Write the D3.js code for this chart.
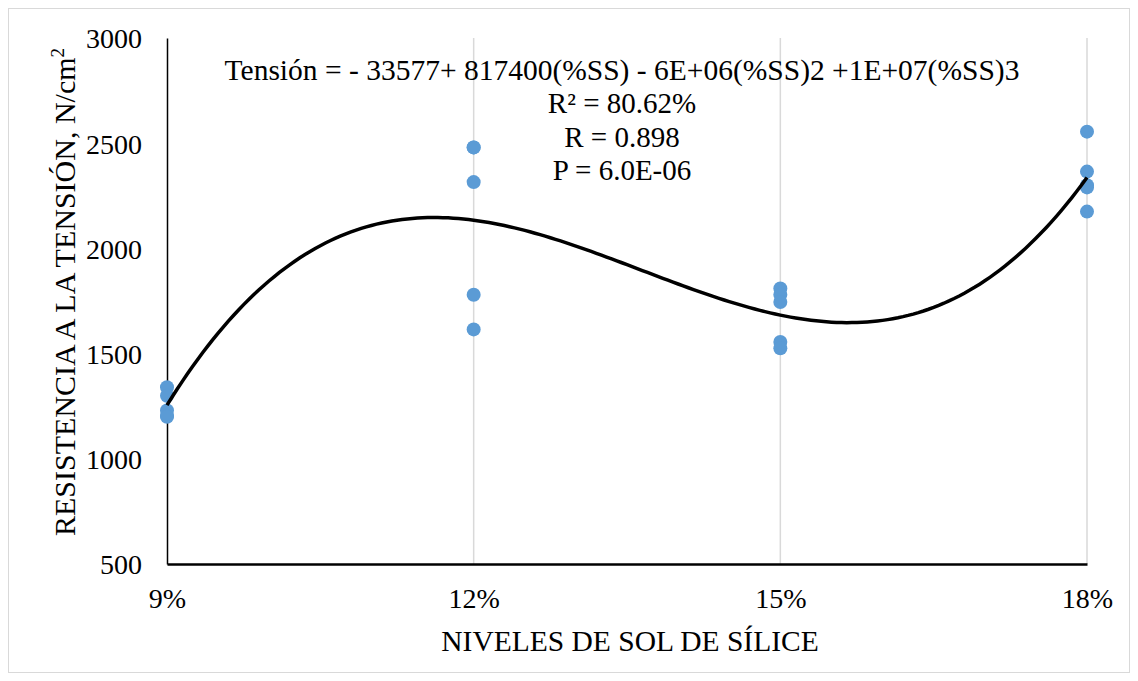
<!DOCTYPE html>
<html lang="es">
<head>
<meta charset="utf-8">
<title>Resistencia a la tensión</title>
<script src="https://cdn.jsdelivr.net/npm/d3@7"></script>
<style>
  body { margin: 0; background: #fff; }
  text { font-family: "Liberation Serif", "Times New Roman", serif; fill: #000; }
</style>
</head>
<body>
<svg id="chart"></svg>
<script>
var width = 1138;
var height = 681;

// niveles de sol de silice (fraccion) y lecturas por nivel
var levels = [0.09, 0.12, 0.15, 0.18];
var levelLabels = ["9%", "12%", "15%", "18%"];
var tension09 = [1340, 1300, 1230, 1205, 1200];
var tension12 = [2480, 2480, 2315, 1780, 1615];
var tension15 = [1810, 1780, 1745, 1555, 1525];
var tension18 = [2555, 2365, 2300, 2290, 2175];
var yTicks = [500, 1000, 1500, 2000, 2500, 3000];
var eqLines = [
  "Tensión = - 33577+ 817400(%SS) - 6E+06(%SS)2 +1E+07(%SS)3",
  "R² = 80.62%",
  "R = 0.898",
  "P = 6.0E-06"
];

var points = [];
[tension09, tension12, tension15, tension18].forEach(function(vals, i) {
  vals.forEach(function(v) { points.push({ x: levels[i], y: v }); });
});

var svg = d3.select("#chart").attr("width", width).attr("height", height);

// marco del grafico
svg.append("rect")
  .attr("x", 8.5).attr("y", 8.5)
  .attr("width", width - 17).attr("height", height - 17)
  .attr("fill", "none").attr("stroke", "#d9d9d9");

var x = d3.scaleLinear().domain([0.09, 0.18]).range([167, 1087]);
var y = d3.scaleLinear().domain([500, 3000]).range([564, 38]);

// lineas verticales de la cuadricula
svg.append("g")
  .selectAll("line")
  .data(levels.slice(1))
  .enter()
  .append("line")
  .attr("x1", function(d) { return x(d); })
  .attr("x2", function(d) { return x(d); })
  .attr("y1", y(3000))
  .attr("y2", y(500))
  .attr("stroke", "#d9d9d9")
  .attr("stroke-width", 1.5);

// ejes
var yAxis = svg.append("g")
  .attr("transform", "translate(" + x(0.09) + ",0)")
  .call(d3.axisLeft(y).tickValues(yTicks).tickSize(0).tickPadding(25).tickFormat(d3.format("d")));
yAxis.select(".domain").attr("stroke", "#000").attr("stroke-width", 1.5);
yAxis.selectAll("text").attr("font-size", 28).attr("dy", "0.35em");

var xAxis = svg.append("g")
  .attr("transform", "translate(0," + y(500) + ")")
  .call(d3.axisBottom(x).tickValues(levels).tickSize(0).tickPadding(24)
    .tickFormat(function(d, i) { return levelLabels[i]; }));
xAxis.select(".domain").attr("stroke", "#000").attr("stroke-width", 2.5);
xAxis.selectAll("text").attr("font-size", 28);

// ajuste polinomico de grado 3 (minimos cuadrados)
function polyFit(data, deg) {
  var n = deg + 1, A = [], b = [];
  for (var r = 0; r < n; r++) {
    A.push([]);
    for (var c = 0; c < n; c++) A[r].push(d3.sum(data, function(p) { return Math.pow(p.x, r + c); }));
    b.push(d3.sum(data, function(p) { return p.y * Math.pow(p.x, r); }));
  }
  for (var i = 0; i < n; i++) {
    var piv = i;
    for (var k = i + 1; k < n; k++) if (Math.abs(A[k][i]) > Math.abs(A[piv][i])) piv = k;
    var t = A[i]; A[i] = A[piv]; A[piv] = t;
    var tb = b[i]; b[i] = b[piv]; b[piv] = tb;
    for (var k2 = i + 1; k2 < n; k2++) {
      var f = A[k2][i] / A[i][i];
      for (var c2 = i; c2 < n; c2++) A[k2][c2] -= f * A[i][c2];
      b[k2] -= f * b[i];
    }
  }
  var coef = new Array(n);
  for (var i2 = n - 1; i2 >= 0; i2--) {
    var s = b[i2];
    for (var j = i2 + 1; j < n; j++) s -= A[i2][j] * coef[j];
    coef[i2] = s / A[i2][i2];
  }
  return coef;
}
// se escala x a porcentaje para evitar mal condicionamiento
var coef = polyFit(points.map(function(p) { return { x: p.x * 100, y: p.y }; }), 3);
var curve = d3.range(0.09, 0.18001, 0.0005).map(function(v) {
  var u = v * 100;
  return [v, coef[0] + coef[1] * u + coef[2] * u * u + coef[3] * u * u * u];
});

svg.append("g")
  .selectAll("circle")
  .data(points)
  .enter()
  .append("circle")
  .attr("cx", function(d) { return x(d.x); })
  .attr("cy", function(d) { return y(d.y); })
  .attr("r", 7)
  .attr("fill", "#5b9bd5");

svg.append("path")
  .datum(curve)
  .attr("d", d3.line().x(function(d) { return x(d[0]); }).y(function(d) { return y(d[1]); }))
  .attr("fill", "none")
  .attr("stroke", "#000")
  .attr("stroke-width", 3.5);

// ecuacion y estadisticos
svg.append("g")
  .selectAll("text")
  .data(eqLines)
  .enter()
  .append("text")
  .attr("x", 622)
  .attr("y", function(d, i) { return 80 + i * 33.4; })
  .attr("text-anchor", "middle")
  .attr("font-size", function(d, i) { return i === 0 ? 29.5 : 29; })
  .text(function(d) { return d; });

// titulos de los ejes
svg.append("text")
  .attr("x", 630).attr("y", 651)
  .attr("text-anchor", "middle")
  .attr("font-size", 29.5)
  .text("NIVELES DE SOL DE SÍLICE");

var yTitle = svg.append("text")
  .attr("transform", "translate(75,292) rotate(-90)")
  .attr("text-anchor", "middle")
  .attr("font-size", 30);
yTitle.append("tspan").text("RESISTENCIA A LA TENSIÓN, N/cm");
yTitle.append("tspan").attr("font-size", 19).attr("dy", -11).text("2");
</script>
</body>
</html>
